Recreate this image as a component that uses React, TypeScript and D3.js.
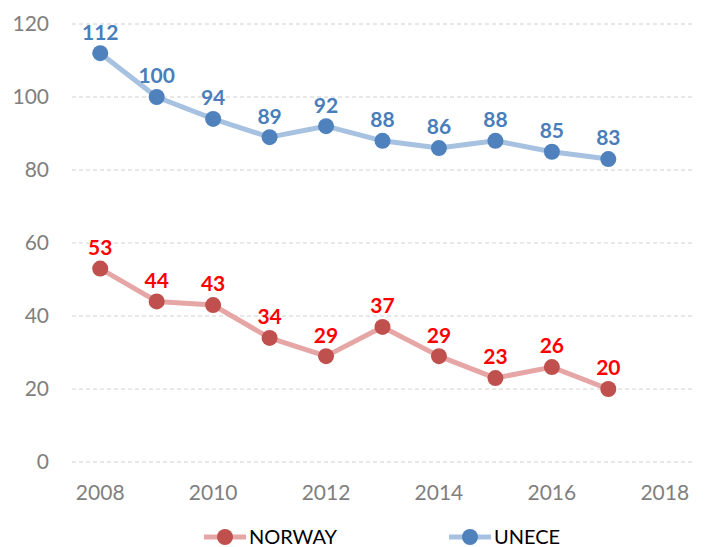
import React from 'react';
import * as d3 from 'd3';

const years = [2008, 2009, 2010, 2011, 2012, 2013, 2014, 2015, 2016, 2017];
const norway = [53, 44, 43, 34, 29, 37, 29, 23, 26, 20];
const unece = [112, 100, 94, 89, 92, 88, 86, 88, 85, 83];
const yTicks = [0, 20, 40, 60, 80, 100, 120];
const xTicks = [2008, 2010, 2012, 2014, 2016, 2018];

const FONT = 'Lato, "Open Sans", sans-serif';

const series = [
  { name: 'NORWAY', values: norway, line: '#E6A6A5', dot: '#C0504D', label: '#FF0000' },
  { name: 'UNECE', values: unece, line: '#A7C1E0', dot: '#4F81BD', label: '#4A7EBB' },
];

const App: React.FC = () => {
  const width = 706;
  const height = 547;

  const x = d3.scaleLinear().domain([2007.5, 2018.5]).range([72, 693]);
  const y = d3.scaleLinear().domain([0, 120]).range([462, 24]);

  const line = d3
    .line<number>()
    .x((_, i) => x(years[i]))
    .y((d) => y(d));

  // legend positions
  const legend = [
    { s: series[0], x0: 204 },
    { s: series[1], x0: 449 },
  ];

  return (
    <svg width={width} height={height} style={{ position: 'absolute', left: 0, top: 0 }}>
      <rect width={width} height={height} fill="#fff" />
      {yTicks.map((t) => (
        <g key={t}>
          <line x1={72} x2={693} y1={y(t)} y2={y(t)} stroke="#D0D0D0" strokeWidth={1} strokeDasharray="4,3" />
          <text x={49} y={y(t)} dy="0.35em" textAnchor="end" fontFamily={FONT} fontSize={21} fill="#7F7F7F">
            {t}
          </text>
        </g>
      ))}
      {xTicks.map((t) => (
        <text key={t} x={x(t)} y={493} dy="0.35em" textAnchor="middle" fontFamily={FONT} fontSize={21} fill="#7F7F7F">
          {t}
        </text>
      ))}
      {series.map((s) => (
        <g key={s.name}>
          <path d={line(s.values) || ''} fill="none" stroke={s.line} strokeWidth={5} strokeLinejoin="round" />
          {s.values.map((v, i) => (
            <circle key={i} cx={x(years[i])} cy={y(v)} r={8} fill={s.dot} />
          ))}
          {s.values.map((v, i) => (
            <text
              key={'t' + i}
              x={x(years[i])}
              y={y(v) - 21}
              dy="0.35em"
              textAnchor="middle"
              fontFamily={FONT}
              fontWeight="bold"
              fontSize={21}
              fill={s.label}
            >
              {v}
            </text>
          ))}
        </g>
      ))}
      {legend.map(({ s, x0 }) => (
        <g key={s.name}>
          <line x1={x0} x2={x0 + 42} y1={537} y2={537} stroke={s.line} strokeWidth={5} />
          <circle cx={x0 + 21} cy={537} r={8} fill={s.dot} />
          <text x={x0 + 45} y={537} dy="0.35em" fontFamily={FONT} fontSize={20} fill="#000">
            {s.name}
          </text>
        </g>
      ))}
    </svg>
  );
};

export default App;
